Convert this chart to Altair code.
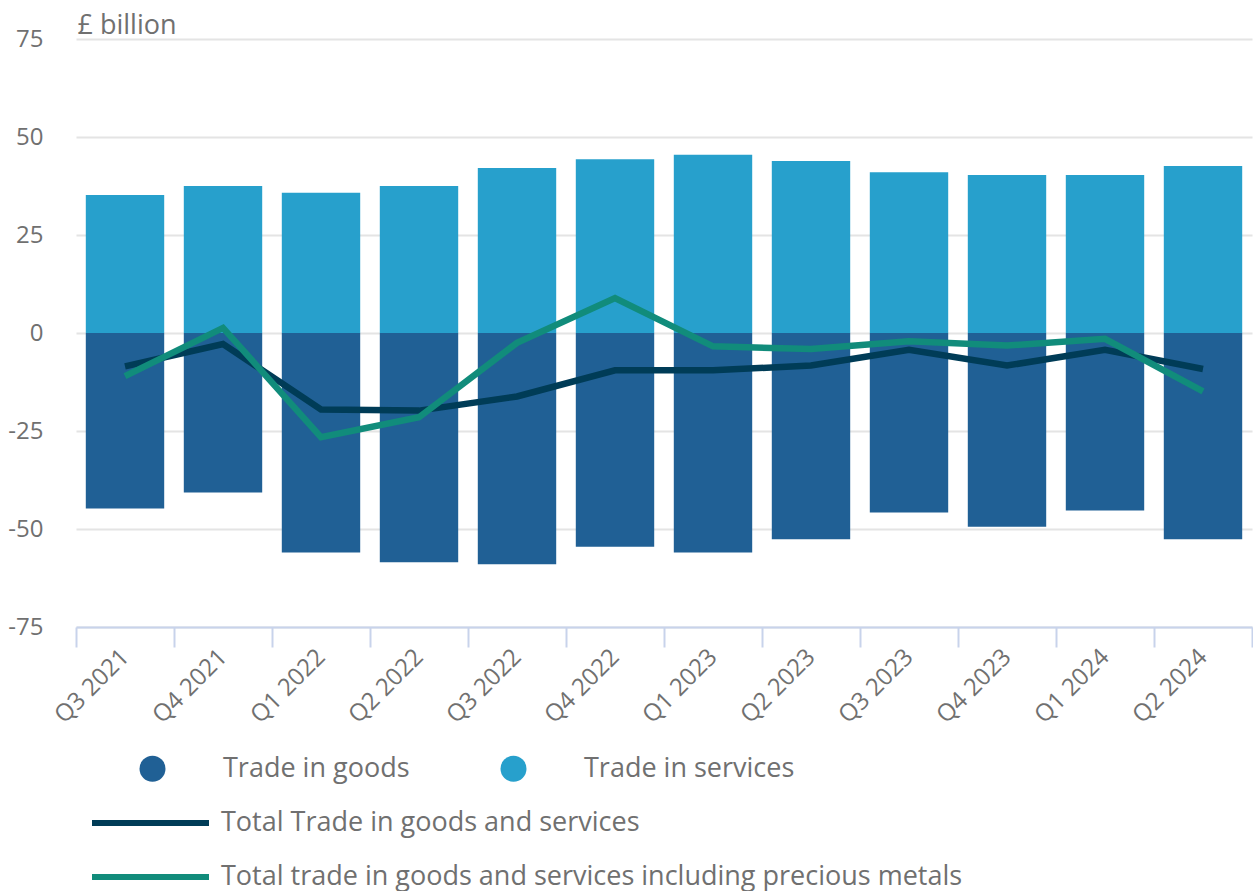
import altair as alt
import pandas as pd

quarters = ["Q3 2021", "Q4 2021", "Q1 2022", "Q2 2022", "Q3 2022", "Q4 2022",
            "Q1 2023", "Q2 2023", "Q3 2023", "Q4 2023", "Q1 2024", "Q2 2024"]
goods = [-44.8, -40.7, -56.0, -58.5, -59.0, -54.5, -56.0, -52.6, -45.8, -49.4, -45.3, -52.6]
services = [35.2, 37.5, 35.8, 37.5, 42.1, 44.3, 45.5, 43.9, 41.0, 40.3, 40.3, 42.6]
total = [-8.5, -2.8, -19.5, -19.8, -16.2, -9.5, -9.5, -8.3, -4.3, -8.3, -4.3, -9.2]
total_pm = [-11.0, 1.3, -26.6, -21.5, -2.5, 8.9, -3.4, -4.1, -2.1, -3.2, -1.5, -14.9]

bar_names = ["Trade in goods", "Trade in services"]
line_names = ["Total Trade in goods and services",
              "Total trade in goods and services including precious metals"]
bar_colors = ["#206095", "#27a0cc"]
line_colors = ["#003c57", "#118c7b"]

bars_df = pd.DataFrame({
    "quarter": quarters * 2,
    "series": [bar_names[0]] * len(quarters) + [bar_names[1]] * len(quarters),
    "value": goods + services,
})
lines_df = pd.DataFrame({
    "quarter": quarters * 2,
    "series": [line_names[0]] * len(quarters) + [line_names[1]] * len(quarters),
    "value": total + total_pm,
})

TXT = "#707070"

x_enc = alt.X(
    "quarter:N", sort=quarters, title=None,
    scale=alt.Scale(paddingInner=0, paddingOuter=0),
    axis=alt.Axis(
        labelAngle=-45, labelAlign="right", labelBaseline="middle",
        labelFontSize=24, labelColor=TXT, labelPadding=6,
        domainColor="#c8d3eb", domainWidth=2,
        tickColor="#c8d3eb", tickWidth=2, tickSize=20, tickBand="extent",
        grid=False,
    ),
)
y_scale = alt.Scale(domain=[-75, 75], nice=False, zero=False)
y_axis = alt.Axis(
    values=[-75, -50, -25, 0, 25, 50, 75], labelExpr="'' + datum.value",
    labelFontSize=24, labelColor=TXT, labelPadding=33,
    domain=False, ticks=False,
    grid=True, gridColor="#e4e4e4", gridWidth=2,
    title="£ billion", titleAngle=0, titleAlign="left", titleBaseline="alphabetic",
    titleX=1, titleY=-6, titleFontSize=27, titleFontWeight="normal", titleColor=TXT,
)

bars = alt.Chart(bars_df).mark_bar(width=alt.RelativeBandSize(0.8)).encode(
    x=x_enc,
    y=alt.Y("value:Q", scale=y_scale, axis=y_axis, stack=None),
    fill=alt.Fill(
        "series:N",
        scale=alt.Scale(domain=bar_names, range=bar_colors),
        legend=alt.Legend(
            title=None, orient="none", legendX=63, legendY=716,
            direction="horizontal", columns=2, columnPadding=90,
            symbolType="circle", symbolSize=676, symbolStrokeWidth=0,
            labelOffset=57, labelFontSize=27, labelColor=TXT, labelLimit=1000,
        ),
    ),
)

lines = alt.Chart(lines_df).mark_line(strokeWidth=6.5).encode(
    x=alt.X("quarter:N", sort=quarters),
    y=alt.Y("value:Q", scale=y_scale),
    stroke=alt.Stroke(
        "series:N",
        scale=alt.Scale(domain=line_names, range=line_colors),
        legend=alt.Legend(
            title=None, orient="none", legendX=13, legendY=768,
            direction="vertical", symbolType="M-1,0H8", symbolSize=676,
            symbolStrokeWidth=6, labelOffset=100, rowPadding=25,
            labelFontSize=27, labelColor=TXT, labelLimit=1000,
        ),
    ),
)

chart = alt.layer(bars, lines).properties(
    width=1176, height=588,
    autosize=alt.AutoSizeParams(type="none"),
    padding={"left": 76, "top": 39, "right": 1, "bottom": 264},
).configure(
    font="Open Sans",
).configure_view(stroke=None)

chart.save("out.html", embed_options={"renderer": "svg", "actions": False})
